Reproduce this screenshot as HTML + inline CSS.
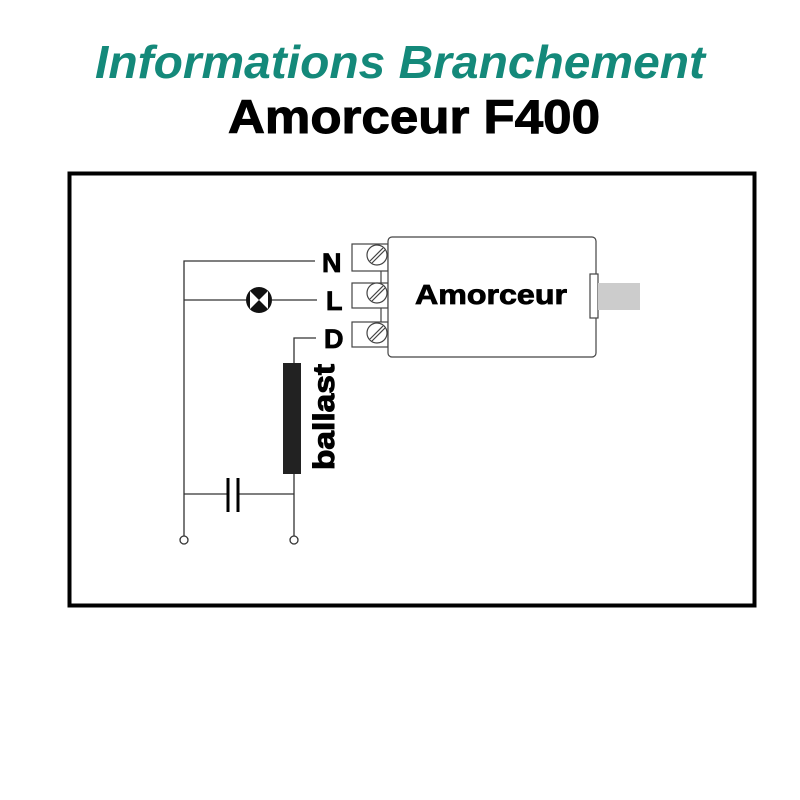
<!DOCTYPE html>
<html><head><style>html,body{margin:0;padding:0;background:#fff}svg{display:block}</style></head>
<body>
<svg width="800" height="800" viewBox="0 0 800 800" xmlns="http://www.w3.org/2000/svg" font-family="Liberation Sans, sans-serif">
<text x="95" y="78" font-size="46" font-weight="bold" font-style="italic" fill="#14897a" textLength="610" lengthAdjust="spacingAndGlyphs">Informations Branchement</text>
<text x="228" y="133" font-size="47" font-weight="bold" fill="#000" stroke="#000" stroke-width="1" textLength="372" lengthAdjust="spacingAndGlyphs">Amorceur F400</text>
<rect x="69.5" y="173.5" width="685" height="432" fill="none" stroke="#000" stroke-width="4"/>
<g stroke="#333" stroke-width="1.3" fill="none">
<polyline points="315,261 184,261 184,536"/>
<line x1="184" y1="300" x2="246" y2="300"/>
<line x1="272" y1="300" x2="317" y2="300"/>
<polyline points="316,338 294,338 294,363"/>
<line x1="294" y1="474" x2="294" y2="536"/>
<line x1="184" y1="494" x2="227" y2="494"/>
<line x1="238" y1="494" x2="294" y2="494"/>
<circle cx="184" cy="540" r="4" fill="#fff"/>
<circle cx="294" cy="540" r="4" fill="#fff"/>
</g>
<g stroke="#000" stroke-width="3"><line x1="228" y1="478" x2="228" y2="512"/><line x1="238" y1="478" x2="238" y2="512"/></g>
<circle cx="259" cy="300" r="13" fill="#111"/>
<path d="M250 291 L259 300 L250 309 Z M268 291 L259 300 L268 309 Z" fill="#fff"/>
<rect x="283" y="363" width="18" height="111" fill="#222"/>
<text transform="translate(334,470) rotate(-90)" font-size="30" font-weight="bold" stroke="#000" stroke-width="1" textLength="106" lengthAdjust="spacingAndGlyphs">ballast</text>
<g font-size="27" font-weight="bold" stroke="#000" stroke-width="0.8">
<text x="322" y="272">N</text>
<text x="326" y="310">L</text>
<text x="324" y="348">D</text>
</g>
<g stroke="#444" stroke-width="1.2" fill="#fff">
<rect x="352" y="244" width="36" height="27"/>
<rect x="352" y="283" width="36" height="25"/>
<rect x="352" y="322" width="36" height="25"/>
<line x1="381" y1="271" x2="381" y2="283"/>
<line x1="381" y1="308" x2="381" y2="322"/>
<rect x="388" y="237" width="208" height="120" rx="4"/>
<circle cx="377" cy="255" r="10"/><circle cx="377" cy="293" r="10"/><circle cx="377" cy="333" r="10"/>
<path d="M370 261 L383 248 M372 263 L385 250 M370 299 L383 286 M372 301 L385 288 M370 339 L383 326 M372 341 L385 328"/>
<rect x="590" y="274" width="8" height="44"/>
</g>
<rect x="598" y="283" width="42" height="27" fill="#ccc"/>
<text x="415" y="304" font-size="28" font-weight="bold" stroke="#000" stroke-width="0.8" textLength="152" lengthAdjust="spacingAndGlyphs">Amorceur</text>
</svg>
</body></html>
